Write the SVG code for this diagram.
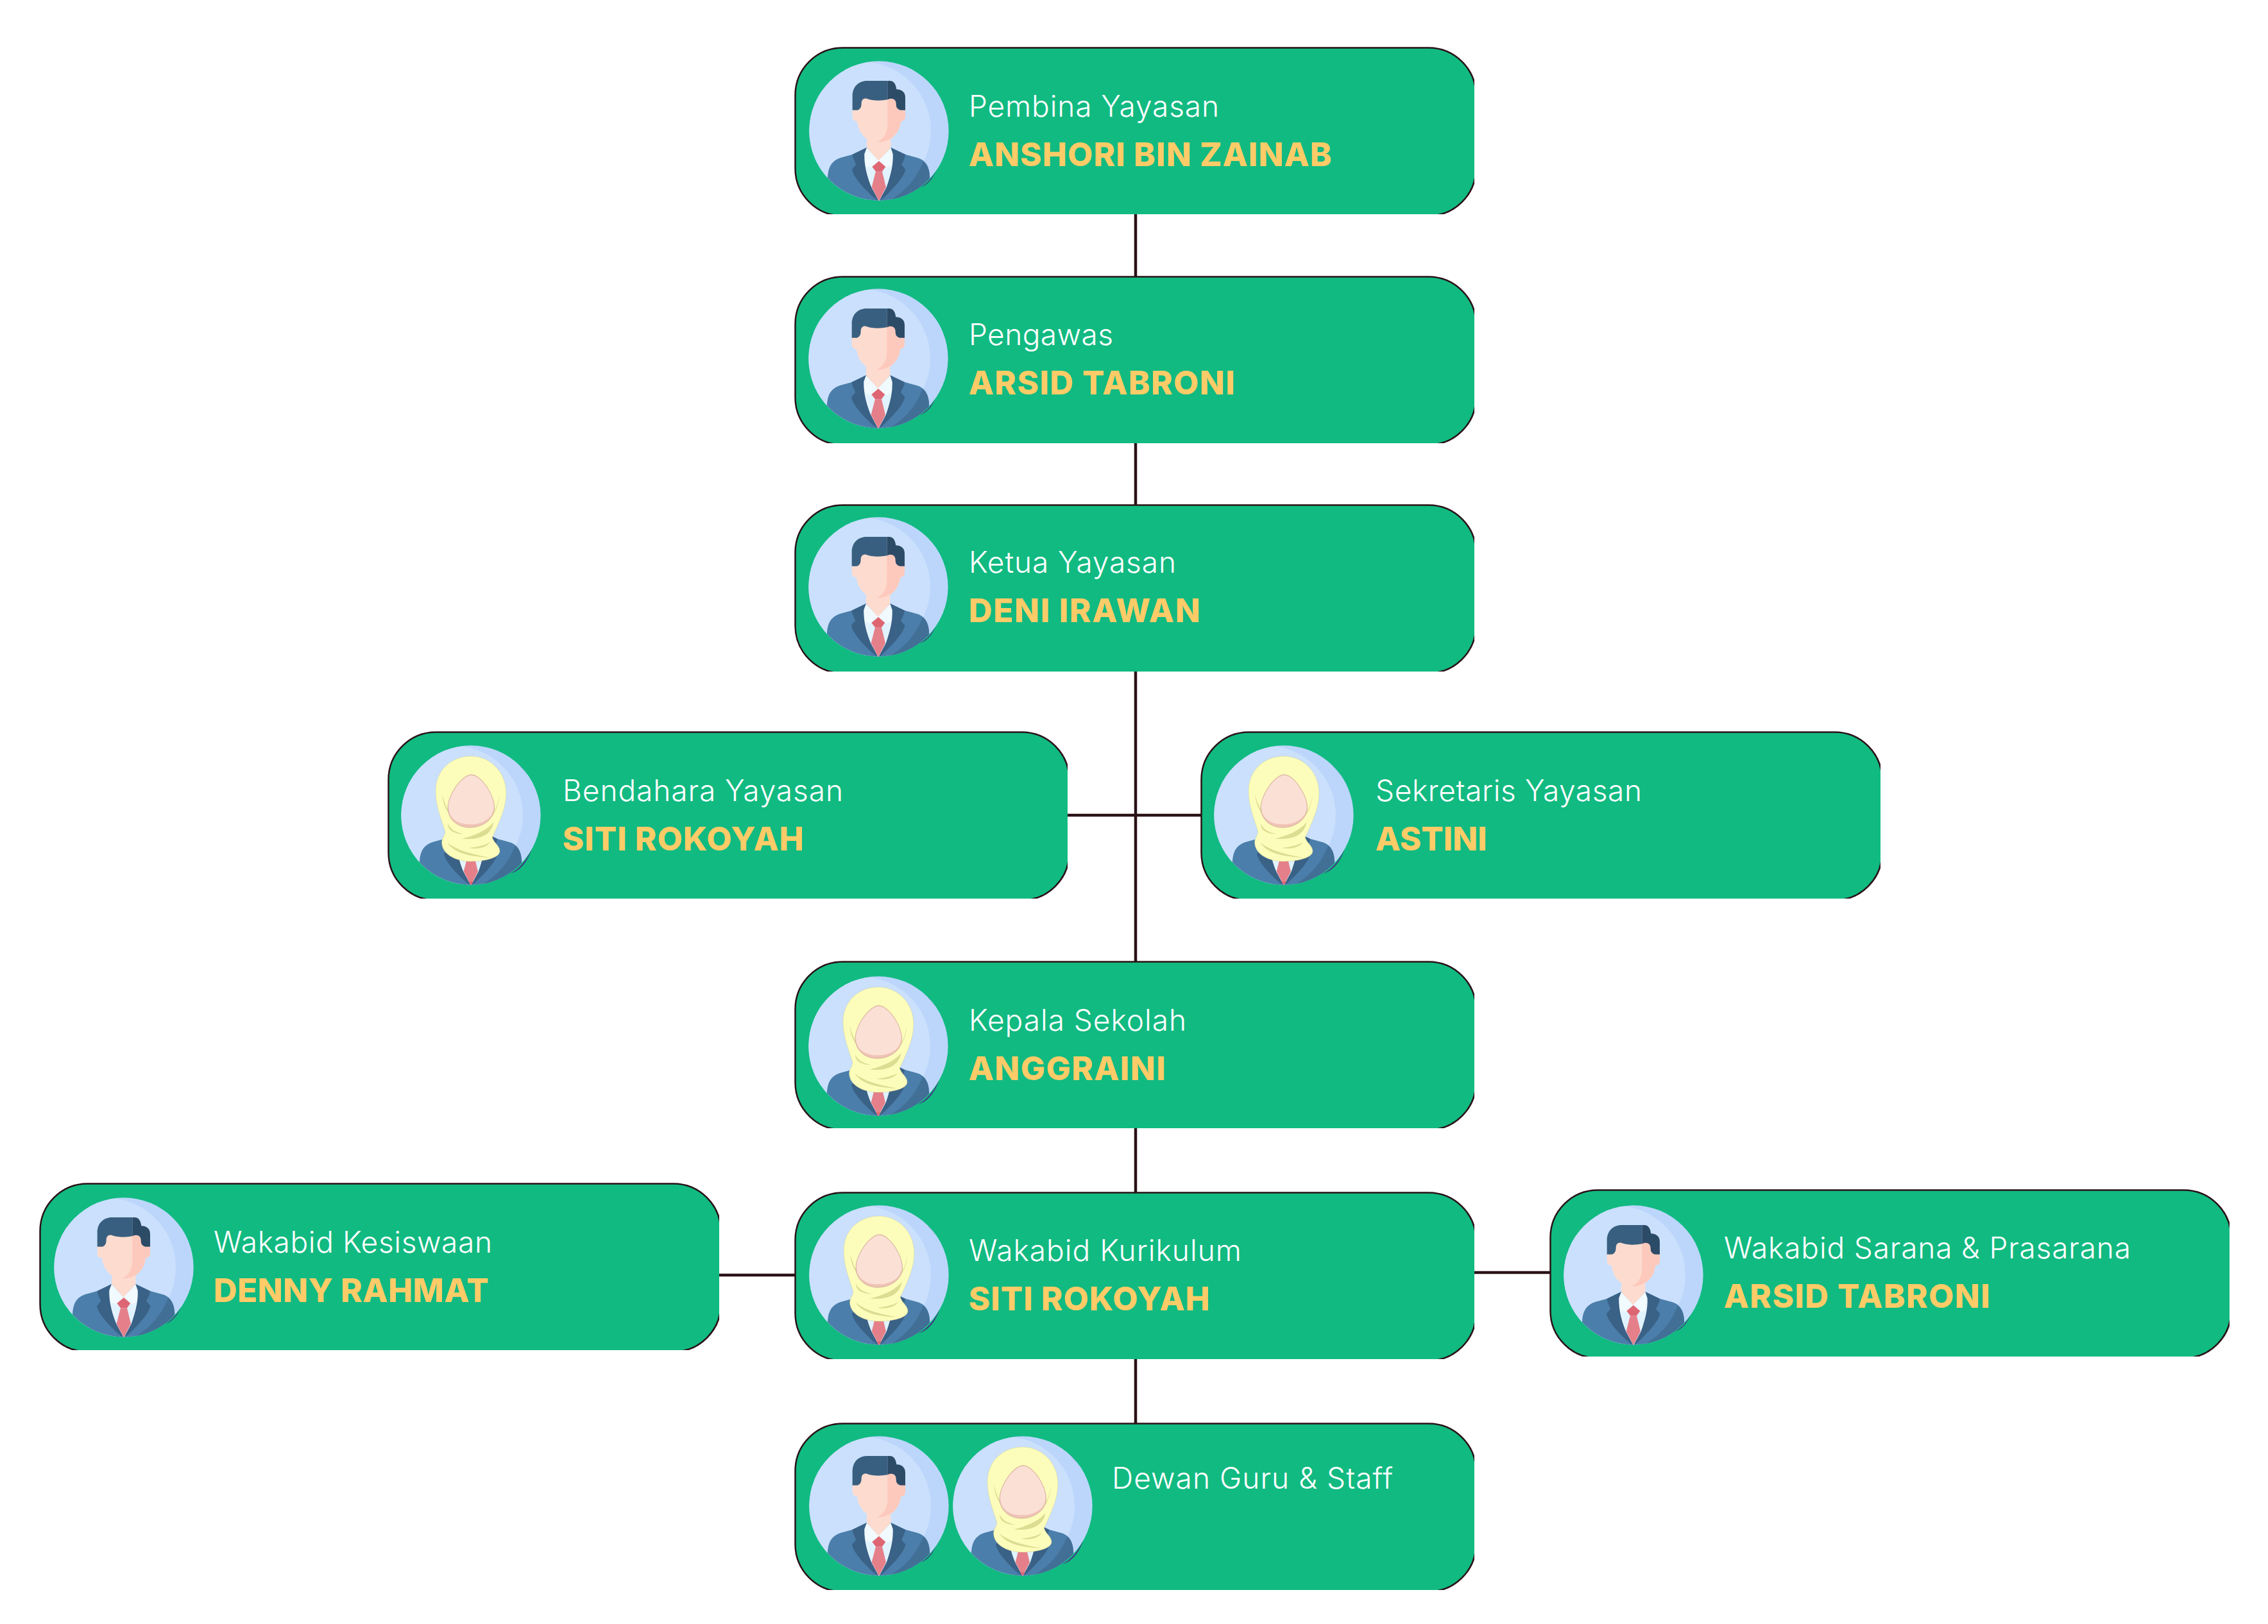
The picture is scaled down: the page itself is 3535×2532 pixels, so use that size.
<svg xmlns="http://www.w3.org/2000/svg" width="3535" height="2532" viewBox="0 0 3535 2532">
<style>
text{font-family:"Inter","Liberation Sans",sans-serif}
.role{fill:#fff;font-size:46px;font-weight:300}
.name{fill:#fdcb67;font-size:51px;font-weight:800}
.conn line{stroke:#2a1216;stroke-width:4.5}
</style>
<defs>
<clipPath id="cardClip"><rect x="0" y="0" width="1060" height="261"/></clipPath>
<clipPath id="disc"><circle cx="390" cy="372" r="326"/></clipPath>
<g id="card"><rect x="1.5" y="1.5" width="1061" height="262" rx="74" fill="#11ba81" stroke="#2a1216" stroke-width="2.5" clip-path="url(#cardClip)"/></g>
<g id="bg">
<circle cx="390" cy="372" r="326" fill="#bcd6fb"/>
<circle cx="308" cy="372" r="325" fill="#cae0fd" clip-path="url(#disc)"/>
</g>
<g id="body" clip-path="url(#disc)">
<path d="M150,600C150,540 170,512 210,498L265,483L333,450H445L515,483L570,498C610,510 628,540 628,600V720H150Z" fill="#4b7eaa"/>
<path d="M597,515C615,528 628,550 628,600V720H400C500,670 560,610 597,515Z" fill="#416f96"/>
<path d="M333,450L265,483C270,505 280,520 283,530L264,552C270,590 325,650 385,700L322,480Z" fill="#3a6186"/>
<path d="M445,450L513,483C510,505 500,520 495,530L514,552C508,590 450,650 395,700L455,480Z" fill="#3a6186"/>
<path d="M322,480L333,450L388,510L445,450L455,480C458,540 440,590 425,635L390,700L355,635C335,590 320,530 322,480Z" fill="#f0faff"/>
<path d="M330,535C345,545 360,545 375,540L405,540C420,545 440,545 450,530C445,570 438,600 425,635L390,700L355,635C342,600 335,570 330,535Z" fill="#e1f3ff"/>
<path d="M333,400H445V450L388,512L333,450Z" fill="#fddccf"/>
<path d="M375,562H405L423,635L390,700L356,635Z" fill="#e5808a"/>
<path d="M358,540L390,513L421,540L405,562H375Z" fill="#de6673"/>
</g>
<g id="male">
<use href="#bg"/>
<path d="M656,560C640,590 620,615 585,636C615,625 640,600 656,560Z" fill="#4a2d86"/>
<use href="#body"/>
<path d="M266,270V305C266,318 272,325 288,328C292,380 330,425 390,425C450,425 488,380 492,328C505,325 513,318 513,305V270L470,215H310Z" fill="#fddccf"/>
<path d="M430,215L470,225L513,270V305C513,318 505,325 492,328C488,380 450,425 380,425C415,410 430,380 430,340Z" fill="#fdc9bc"/>
<path d="M266,275V210C266,165 295,138 335,138H430V226C400,232 360,232 335,222C320,217 308,225 308,245C308,262 300,272 290,275Z" fill="#395f80"/>
<path d="M430,138H440C458,138 468,150 472,178C500,178 513,195 513,215V275H490C475,270 470,262 470,245C470,228 458,218 440,222L430,226Z" fill="#2c4b67"/>
</g>
<g id="female">
<use href="#bg"/>
<path d="M606,128C630,150 650,180 664,215C650,182 632,150 606,128ZM672,535C650,585 615,625 575,645C620,632 655,590 672,535Z" fill="#4a2d86"/>
<use href="#body"/>
<path d="M379,682H401L390,700Z" fill="#de6673"/>
<g transform="translate(20,10)">
<path d="M370,86C460,86 535,160 535,260C535,330 500,400 470,465C475,490 505,505 505,530C505,560 440,578 370,578C300,578 235,545 234,490C234,470 245,465 250,440C235,390 205,320 205,250C205,150 280,86 370,86Z" fill="#fdfdbb" stroke="#cfcf96" stroke-width="1.5"/>
<path d="M235,262C240,320 265,365 310,395C270,362 248,315 235,262ZM504,265C500,320 480,360 450,385C482,350 498,310 504,265ZM262,402C262,432 290,450 336,450C300,443 275,430 262,402ZM477,393C455,425 400,455 328,472C395,478 465,465 477,393ZM460,488C430,505 400,510 362,515C400,522 440,515 460,488ZM260,490C290,535 350,555 460,560C380,545 310,530 260,490Z" fill="#dcdc92"/>
<path d="M372,172C420,172 480,270 480,325C480,385 420,420 365,420C310,420 262,385 262,325C262,270 325,172 372,172Z" fill="#efc3b5" stroke="#b89a8c" stroke-width="1.5"/>
<path d="M372,176C418,176 477,270 477,322C477,378 420,405 365,405C310,405 265,378 265,322C265,270 328,176 372,176Z" fill="#fbe0d5"/>
</g>
</g>
</defs>
<g id="connectors" class="conn">
<line x1="1770" y1="330" x2="1770" y2="436"/>
<line x1="1770" y1="685" x2="1770" y2="792"/>
<line x1="1770" y1="1040" x2="1770" y2="1504"/>
<line x1="1660" y1="1271" x2="1876" y2="1271"/>
<line x1="1770" y1="1754" x2="1770" y2="1865"/>
<line x1="1770" y1="2114" x2="1770" y2="2224"/>
<line x1="1116" y1="1988" x2="1244" y2="1988"/>
<line x1="2294" y1="1984" x2="2420" y2="1984"/>
</g>
<g id="node-pembina" transform="translate(1238,73)">
<use href="#card"/><use href="#male" transform="translate(2,7) scale(.3333)"/>
<text class="role" x="272" y="109" textLength="390">Pembina Yayasan</text>
<text class="name" x="272" y="186" textLength="566">ANSHORI BIN ZAINAB</text>
</g>
<g id="node-pengawas" transform="translate(1238,430)">
<use href="#card"/><use href="#male" transform="translate(1,5) scale(.3333)"/>
<text class="role" x="272" y="108" textLength="225">Pengawas</text>
<text class="name" x="272" y="185" textLength="415">ARSID TABRONI</text>
</g>
<g id="node-ketua" transform="translate(1238,786)">
<use href="#card"/><use href="#male" transform="translate(1,5) scale(.3333)"/>
<text class="role" x="272" y="107" textLength="323">Ketua Yayasan</text>
<text class="name" x="272" y="184" textLength="361">DENI IRAWAN</text>
</g>
<g id="node-bendahara" transform="translate(604,1140)">
<use href="#card"/><use href="#female" transform="translate(0,7) scale(.3333)"/>
<text class="role" x="273" y="109" textLength="437">Bendahara Yayasan</text>
<text class="name" x="273" y="186" textLength="376">SITI ROKOYAH</text>
</g>
<g id="node-sekretaris" transform="translate(1871,1140)">
<use href="#card"/><use href="#female" transform="translate(0,7) scale(.3333)"/>
<text class="role" x="273" y="109" textLength="415">Sekretaris Yayasan</text>
<text class="name" x="273" y="186" textLength="174">ASTINI</text>
</g>
<g id="node-kepala" transform="translate(1238,1498)">
<use href="#card"/><use href="#female" transform="translate(1,9) scale(.3333)"/>
<text class="role" x="272" y="109" textLength="339">Kepala Sekolah</text>
<text class="name" x="272" y="186" textLength="307">ANGGRAINI</text>
</g>
<g id="node-kesiswaan" transform="translate(61,1844)">
<use href="#card"/><use href="#male" transform="translate(2,8) scale(.3333)"/>
<text class="role" x="272" y="109" textLength="434">Wakabid Kesiswaan</text>
<text class="name" x="272" y="186" textLength="429">DENNY RAHMAT</text>
</g>
<g id="node-kurikulum" transform="translate(1238,1858)">
<use href="#card"/><use href="#female" transform="translate(2,6) scale(.3333)"/>
<text class="role" x="272" y="108" textLength="425">Wakabid Kurikulum</text>
<text class="name" x="272" y="185" textLength="376">SITI ROKOYAH</text>
</g>
<g id="node-sarana" transform="translate(2415,1854)">
<use href="#card"/><use href="#male" transform="translate(1,10) scale(.3333)"/>
<text class="role" x="272" y="108" textLength="634">Wakabid Sarana &amp; Prasarana</text>
<text class="name" x="272" y="185" textLength="415">ARSID TABRONI</text>
</g>
<g id="node-dewan" transform="translate(1238,2218)">
<use href="#card"/><use href="#male" transform="translate(2,6) scale(.3333)"/><use href="#female" transform="translate(226,6) scale(.3333)"/>
<text class="role" x="495" y="103" textLength="438">Dewan Guru &amp; Staff</text>
</g>
</svg>
